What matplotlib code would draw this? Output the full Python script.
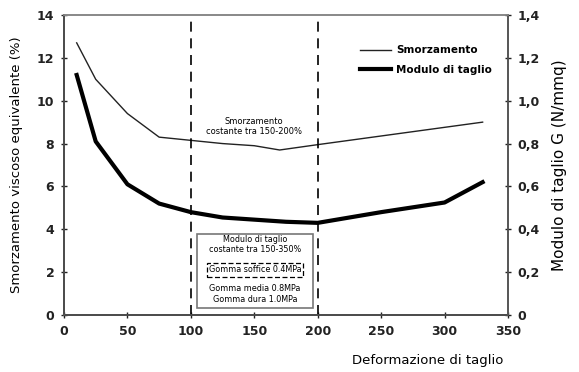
import matplotlib
matplotlib.use("Agg")
import matplotlib.pyplot as plt
from matplotlib.patches import Rectangle

# Data
smorz_x = [10, 25, 50, 75, 100, 125, 150, 170, 200, 330]
smorz_y = [12.7, 11.0, 9.4, 8.3, 8.15, 8.0, 7.9, 7.7, 7.95, 9.0]
mod_x = [10, 25, 50, 75, 100, 125, 150, 175, 200, 250, 300, 330]
mod_g = [1.12, 0.81, 0.61, 0.52, 0.48, 0.455, 0.445, 0.435, 0.43, 0.48, 0.525, 0.62]
xticks = [0, 50, 100, 150, 200, 250, 300, 350]
left_ticks = [0, 2, 4, 6, 8, 10, 12, 14]
right_ticks = [0, 0.2, 0.4, 0.6, 0.8, 1.0, 1.2, 1.4]
right_labels = ["0", "0,2", "0,4", "0,6", "0,8", "1,0", "1,2", "1,4"]

fig = plt.figure(figsize=(5.79, 3.72), dpi=100)
ax = fig.add_axes([64/579, 1-315/372, 444/579, 300/372])
ax2 = ax.twinx()

ax.plot(smorz_x, smorz_y, color="#222222", lw=1.0, label="Smorzamento")
ax2.plot(mod_x, mod_g, color="black", lw=3.0, label="Modulo di taglio")

ax.set_xlim(0, 350)
ax.set_ylim(0, 14)
ax2.set_ylim(0, 1.4)
ax.set_xticks(xticks)
ax.set_yticks(left_ticks)
ax2.set_yticks(right_ticks)
ax2.set_yticklabels(right_labels)

for a in (ax, ax2):
    a.tick_params(direction="inout", length=4, width=1, labelsize=9, colors="#222222", pad=5)
    for lbl in a.get_xticklabels() + a.get_yticklabels():
        lbl.set_fontweight("semibold")
    for sp in a.spines.values():
        sp.set_color("#555555")
        sp.set_linewidth(1.2)
ax.spines["left"].set_color("black")
ax.spines["bottom"].set_color("black")
ax.spines["top"].set_color("#888888")
ax2.spines["top"].set_color("#888888")

for xv in (100, 200):
    ax.axvline(xv, color="black", lw=1.2, ls=(0, (6, 4)))

ax.set_ylabel("Smorzamento viscoso equivalente (%)", fontsize=9.5, labelpad=10)
ax2.set_ylabel("Modulo di taglio G (N/mmq)", fontsize=11, labelpad=9)
ax.set_xlabel("Deformazione di taglio", fontsize=9.5)
ax.xaxis.set_label_coords(0.82, -0.13)

ax.text(150, 8.8, "Smorzamento\ncostante tra 150-200%", ha="center", va="center",
        fontsize=6, linespacing=1.2)

# Box
box = Rectangle((105, 0.35), 91, 3.45, fill=True, facecolor="white",
                edgecolor="#777777", lw=1.2, zorder=3)
ax.add_patch(box)
ax.text(150.5, 3.3, "Modulo di taglio\ncostante tra 150-350%", ha="center", va="center",
        fontsize=5.8, linespacing=1.2, zorder=4)
ax.text(150.5, 2.1, "Gomma soffice 0.4MPa", ha="center", va="center", fontsize=5.8, zorder=4,
        bbox=dict(boxstyle="square,pad=0.25", fc="white", ec="black", lw=0.9, ls=(0, (4, 2))))
ax.text(150.5, 1.0, "Gomma media 0.8MPa\nGomma dura 1.0MPa", ha="center", va="center",
        fontsize=5.8, linespacing=1.3, zorder=4)

h1, l1 = ax.get_legend_handles_labels()
h2, l2 = ax2.get_legend_handles_labels()
ax.legend(h1 + h2, l1 + l2, loc="upper right", bbox_to_anchor=(0.985, 0.93), frameon=False,
          handlelength=3.0, handletextpad=0.5, labelspacing=0.9,
          prop={"size": 7.5, "weight": "semibold"})

fig.savefig("out.png", dpi=100)
